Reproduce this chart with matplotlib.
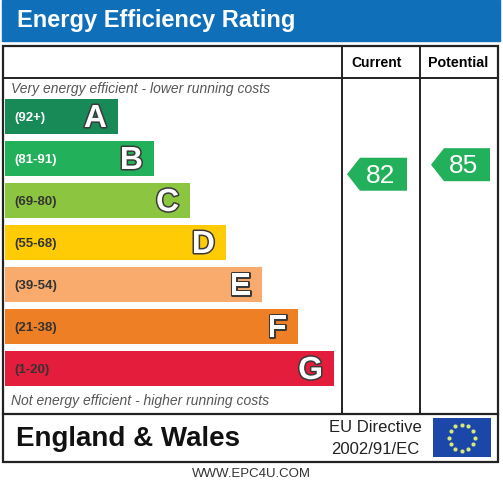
import matplotlib.pyplot as plt
from matplotlib.patches import Rectangle, Polygon
import matplotlib.patheffects as pe
import numpy as np

plt.rcParams['font.family'] = ['Liberation Sans', 'DejaVu Sans']

# ---- data ----
bands = ['A', 'B', 'C', 'D', 'E', 'F', 'G']
ranges = ['(92+)', '(81-91)', '(69-80)', '(55-68)', '(39-54)', '(21-38)', '(1-20)']
lows = [92, 81, 69, 55, 39, 21, 1]
highs = [100, 91, 80, 68, 54, 38, 20]
band_colors = ['#178a57', '#22b05a', '#8cc540', '#fecb05', '#f8ab6c', '#ef7f24', '#e41d3c']
label_colors = ['white', 'white', '#333333', '#333333', '#333333', '#333333', '#333333']
current = 82
potential = 85

title = 'Energy Efficiency Rating'
top_note = 'Very energy efficient - lower running costs'
bottom_note = 'Not energy efficient - higher running costs'
region = 'England & Wales'
directive = ['EU Directive', '2002/91/EC']
footer = 'WWW.EPC4U.COM'

# ---- figure in pixel coords ----
fig = plt.figure(figsize=(5.03, 4.83), dpi=100)
ax = fig.add_axes([0, 0, 1, 1])
ax.set_xlim(0, 503)
ax.set_ylim(483, 0)
ax.axis('off')

# title bar
ax.add_patch(Rectangle((2, 0), 498, 41, color='#0f6fb8'))
ax.text(17, 21, title, color='white', fontsize=17, fontweight='bold', va='center')

# table frame
lc = '#222222'
ax.add_patch(Rectangle((3, 46), 495, 416, fill=False, ec=lc, lw=1.6))
ax.plot([3, 498], [78, 78], color=lc, lw=1.4)
ax.plot([3, 498], [414, 414], color=lc, lw=1.6)
ax.plot([342, 342], [46, 414], color=lc, lw=1.4)
ax.plot([420, 420], [46, 414], color=lc, lw=1.4)
ax.text(377, 63, 'Current', fontsize=10, fontweight='bold', ha='center', va='center')
ax.text(458, 63, 'Potential', fontsize=10.3, fontweight='bold', ha='center', va='center')

ax.text(11, 89, top_note, fontsize=10, style='italic', color='#555555', va='center')
ax.text(11, 401, bottom_note, fontsize=10, style='italic', color='#555555', va='center')

# bands
top0, bh, gap = 99, 35, 7
for i, b in enumerate(bands):
    y = top0 + i * (bh + gap)
    right = 118 + 36 * i
    ax.add_patch(Rectangle((5, y), right - 5, bh, color=band_colors[i], lw=0))
    ax.text(14, y + bh / 2 + 1.5, ranges[i], fontsize=9.5, fontweight='bold',
            color=label_colors[i], va='center')
    ax.text(right - 11, y + bh / 2 + 2.5, b, fontsize=23, fontweight='bold',
            color='white', ha='right', va='center',
            path_effects=[pe.withStroke(linewidth=2.2, foreground='#3a3a3a')])


def band_of(v):
    return next(k for k in range(len(bands)) if lows[k] <= v <= highs[k])


def rating_y(v):
    i = band_of(v)
    y_bot = top0 + i * (bh + gap) + bh
    frac = (v - lows[i] + 0.5) / (highs[i] - lows[i] + 1)
    return y_bot - frac * bh + 3


def arrow(x0, x1, v):
    yc = rating_y(v)
    h = 33
    tip = 13
    pts = [(x0, yc), (x0 + tip, yc - h / 2), (x1, yc - h / 2),
           (x1, yc + h / 2), (x0 + tip, yc + h / 2)]
    ax.add_patch(Polygon(pts, closed=True, color=band_colors[band_of(v)], lw=0))
    ax.text((x0 + tip + x1) / 2 - 3, yc + 1.5, str(v), fontsize=19, color='white',
            ha='center', va='center')


arrow(347, 407, current)
arrow(431, 490, potential)

# footer
ax.text(16, 439, region, fontsize=20, fontweight='bold', va='center', color='#111111')
ax.text(375, 428, directive[0], fontsize=12, ha='center', va='center', color='#222222')
ax.text(375, 449, directive[1], fontsize=12, ha='center', va='center', color='#222222')

# EU flag
ax.add_patch(Rectangle((433, 418), 58, 39, color='#1a47a8', lw=0))
ang = np.linspace(0, 2 * np.pi, 13)[:-1]
ax.scatter(462 + 13 * np.cos(ang), 437.5 + 13 * np.sin(ang), s=9, color='#d8e87a', lw=0)

ax.text(251, 474, footer, fontsize=9.5, ha='center', va='center', color='#333333')

fig.savefig('out.png', dpi=100)
